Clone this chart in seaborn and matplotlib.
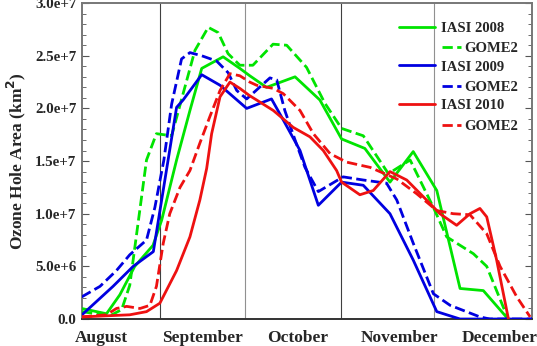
import matplotlib
matplotlib.use("Agg")
import matplotlib.pyplot as plt
import numpy as np
import seaborn as sns

# x = days since 1 August, y = ozone hole area in units of 1e7 km2
iasi08_day = [8.4, 16.4, 20.7, 25.5, 31.4, 34.2, 39.0, 43.3, 47.1, 54.0, 59.4, 62.6, 68.0,
              77.2, 85.2, 92.2, 99.7, 107.8, 115.3, 122.9, 130.4, 137.9, 145.9]
iasi08_val = [0.10, 0.05, 0.23, 0.50, 0.70, 0.94, 1.51, 1.98, 2.38, 2.49, 2.38, 2.31, 2.20,
              2.30, 2.08, 1.71, 1.62, 1.30, 1.59, 1.22, 0.29, 0.27, 0.0]

gome08_day = [8.5, 17.5, 21.3, 23.9, 29.3, 32.5, 37.4, 41.1, 44.9, 49.2, 52.4, 55.6, 59.4,
              63.6, 70.1, 74.5, 80.9, 86.8, 92.2, 99.2, 107.3, 114.3, 121.8, 126.1, 134.7,
              139.0, 145.9]
gome08_val = [0.07, 0.03, 0.09, 0.32, 1.51, 1.76, 1.74, 2.14, 2.55, 2.77, 2.72, 2.52, 2.41,
              2.41, 2.61, 2.60, 2.39, 2.05, 1.81, 1.74, 1.38, 1.51, 1.06, 0.78, 0.62, 0.50, 0.0]

iasi09_day = [8.5, 18.5, 25.0, 31.5, 39.0, 41.1, 47.1, 53.0, 61.6, 69.6, 73.4, 78.8, 84.7,
              92.2, 99.2, 107.8, 115.3, 122.9, 130.4, 153.6]
iasi09_val = [0.04, 0.31, 0.50, 0.64, 2.01, 2.08, 2.32, 2.22, 2.00, 2.09, 1.89, 1.60, 1.08,
              1.30, 1.27, 1.00, 0.56, 0.07, 0.0, 0.0]

gome09_day = [8.4, 14.3, 19.6, 23.9, 29.3, 32.0, 34.9, 37.4, 40.6, 43.3, 47.1, 51.9, 55.6,
              58.4, 61.6, 69.1, 71.3, 73.9, 77.2, 80.4, 84.7, 92.7, 99.2, 106.7, 110.0,
              115.3, 121.8, 127.2, 136.8, 140.0, 153.6]
gome09_val = [0.21, 0.31, 0.46, 0.61, 0.75, 1.06, 1.51, 2.04, 2.47, 2.53, 2.50, 2.45, 2.34,
              2.17, 2.09, 2.29, 2.27, 1.98, 1.70, 1.44, 1.21, 1.35, 1.32, 1.29, 1.13,
              0.72, 0.24, 0.13, 0.02, 0.0, 0.0]

iasi10_day = [8.5, 23.9, 29.3, 33.6, 39.0, 43.3, 46.5, 48.7, 50.3, 53.0, 56.2, 59.4, 62.6,
              64.8, 70.2, 76.6, 82.0, 86.3, 90.6, 92.2, 98.1, 102.4, 107.8, 113.2, 119.6,
              123.9, 129.3, 133.6, 136.8, 139.0, 142.2, 146.0]
iasi10_val = [0.02, 0.04, 0.07, 0.15, 0.46, 0.78, 1.13, 1.43, 1.76, 2.11, 2.25, 2.19, 2.12,
              2.08, 1.98, 1.82, 1.73, 1.60, 1.41, 1.30, 1.18, 1.22, 1.40, 1.32, 1.13,
              1.00, 0.89, 1.00, 1.05, 0.97, 0.56, 0.0]

gome10_day = [8.4, 16.4, 19.6, 22.9, 27.2, 30.4, 32.5, 34.7, 36.8, 40.1, 43.3, 46.5, 49.7,
              53.0, 56.2, 59.4, 62.6, 64.8, 70.2, 73.4, 78.8, 83.1, 88.5, 93.8, 101.4,
              110.0, 116.4, 122.9, 128.2, 133.6, 139.0, 143.3, 148.7, 153.0]
gome10_val = [0.02, 0.04, 0.10, 0.12, 0.10, 0.13, 0.31, 0.72, 1.00, 1.25, 1.41, 1.67, 1.92,
              2.17, 2.33, 2.31, 2.25, 2.22, 2.19, 2.14, 1.98, 1.76, 1.57, 1.49, 1.44,
              1.33, 1.19, 1.03, 1.00, 0.99, 0.81, 0.50, 0.21, 0.02]

month_names = ["August", "September", "October", "November", "December"]
month_label_day = [14.9, 47.2, 78.1, 111.0, 143.3]
month_line_day = [33.6, 61.0, 92.0, 122.0]
ytick_vals = [0.0, 5.0e6, 1.0e7, 1.5e7, 2.0e7, 2.5e7, 3.0e7]
ytick_labels = ["0.0", "5.0e+6", "1.0e+7", "1.5e+7", "2.0e+7", "2.5e+7", "3.0e+7"]

GREEN = "#00e400"
BLUE = "#0000e0"
RED = "#ee1111"

sns.set_style("white")
plt.rcParams["font.family"] = ["Liberation Serif", "DejaVu Serif"]
plt.rcParams["font.weight"] = "bold"

fig, ax = plt.subplots(figsize=(5.37, 3.46), dpi=100)
fig.subplots_adjust(left=0.1527, right=0.9907, bottom=0.078, top=0.991)

line_colors = ["#404040", "#909090", "#404040", "#909090"]
for d, c in zip(month_line_day, line_colors):
    ax.axvline(d, color=c, lw=0.8, zorder=1)

series = [
    (iasi08_day, iasi08_val, GREEN, "-", "IASI 2008"),
    (gome08_day, gome08_val, GREEN, "--", "GOME2"),
    (iasi09_day, iasi09_val, BLUE, "-", "IASI 2009"),
    (gome09_day, gome09_val, BLUE, "--", "GOME2"),
    (iasi10_day, iasi10_val, RED, "-", "IASI 2010"),
    (gome10_day, gome10_val, RED, "--", "GOME2"),
]
handles = []
for xs, ys, col, ls, lab in series:
    sns.lineplot(x=xs, y=np.array(ys) * 1e7, color=col, linestyle=ls, lw=2.0,
                 sort=False, ax=ax, zorder=3)
    handles.append(ax.lines[-1])

ax.set_xlim(8.5, 153.6)
ax.set_ylim(0, 3.0e7)

ax.set_xticks(month_label_day)
ax.set_xticklabels(month_names, fontsize=12.5, fontweight="bold")
ax.tick_params(axis="x", length=0, pad=8)

ax.set_yticks(ytick_vals)
ax.set_yticklabels(ytick_labels, fontsize=10.8, fontweight="bold")
ax.set_yticks(np.arange(0, 3.01e7, 1e6), minor=True)
ax.tick_params(axis="y", which="major", direction="in", length=5, width=0.8,
               right=True, left=True, pad=4, color="#555555")
ax.tick_params(axis="y", which="minor", direction="in", length=3, width=0.6,
               right=True, left=True, color="#555555")
ax.set_ylabel("Ozone Hole Area (km$^\\mathbf{2}$)", fontsize=12.5, fontweight="bold", labelpad=5)
ax.set_xlabel("")

for side in ["top", "right", "left", "bottom"]:
    ax.spines[side].set_color("#777777")
    ax.spines[side].set_linewidth(1.4)
ax.spines["bottom"].set_color("#333333")

iasi_leg = ax.legend([handles[0], handles[2], handles[4]],
                     ["IASI 2008", "IASI 2009", "IASI 2010"],
                     loc="upper left", bbox_to_anchor=(0.704, 0.942), frameon=False,
                     borderpad=0, borderaxespad=0, handlelength=2.45, handletextpad=0.45,
                     labelspacing=1.76, prop={"size": 10.5, "weight": "bold"})
ax.add_artist(iasi_leg)
ax.legend([handles[1], handles[3], handles[5]], ["GOME2", "GOME2", "GOME2"],
          loc="upper left", bbox_to_anchor=(0.801, 0.877), frameon=False,
          borderpad=0, borderaxespad=0, handlelength=1.25, handletextpad=0.25,
          labelspacing=1.76, prop={"size": 10.5, "weight": "bold"})

plt.savefig("out.png", dpi=100)
plt.close()
